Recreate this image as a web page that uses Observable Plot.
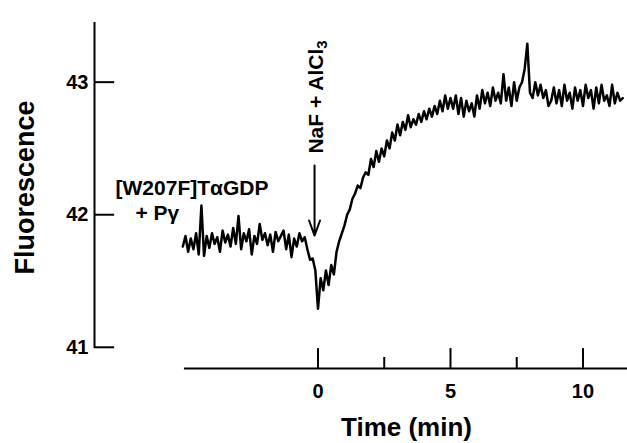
<!DOCTYPE html>
<html><head><meta charset="utf-8">
<script src="https://cdn.jsdelivr.net/npm/d3@7"></script>
<script src="https://cdn.jsdelivr.net/npm/@observablehq/plot@0.6"></script>
<style>html,body{margin:0;padding:0;background:#fff;} #chart{width:627px;height:443px;}</style>
</head><body><div id="chart"></div>
<script>
// Recording: first sample time and sampling interval (min)
const t0 = -5.1, dt = 0.1;
// Fluorescence, one value per 0.1 min from -5.1 to 11.5
const fluorescence = [
  41.76,41.84,41.72,41.82,41.74,41.86,41.70,42.07,41.69,41.84,
  41.75,41.86,41.78,41.83,41.72,41.88,41.79,41.85,41.76,41.90,
  41.78,41.99,41.74,41.86,41.80,41.89,41.70,41.84,41.78,41.93,
  41.81,41.86,41.77,41.85,41.72,41.87,41.80,41.84,41.88,41.74,
  41.85,41.68,41.82,41.76,41.86,41.80,41.83,41.74,41.66,
  41.67,41.58,41.29,41.52,41.43,41.58,41.47,41.62,
  41.55,41.72,41.80,41.86,41.92,42.00,42.04,42.12,42.16,42.22,
  42.20,42.28,42.32,42.30,42.42,42.36,42.48,42.40,42.50,42.44,
  42.56,42.50,42.62,42.56,42.68,42.60,42.70,42.64,42.75,42.66,
  42.72,42.68,42.76,42.70,42.78,42.72,42.80,42.74,42.82,42.76,
  42.86,42.78,42.90,42.80,42.88,
  42.80,42.90,42.76,42.88,42.74,42.86,42.78,42.84,42.74,42.90,
  42.80,42.94,42.84,42.92,42.82,42.96,42.86,42.92,42.84,43.06,
  42.86,42.96,42.82,43.00,42.86,42.96,43.00,43.10,43.29,42.92,
  42.88,43.00,42.90,42.98,42.88,42.94,42.82,42.86,42.96,42.84,
  42.94,42.82,42.98,42.86,42.92,42.80,42.96,42.86,42.94,42.82,
  42.98,42.88,42.94,42.80,42.96,42.84,42.98,42.86,42.90,42.82,
  42.98,42.84,42.92,42.86,42.88
];
const yTicks = [41, 42, 43];
const xMajorTicks = [0, 5, 10];
const xMinorTicks = [2.5, 7.5];
const sampleLabel1 = "[W207F]TαGDP";
const sampleLabel2 = "+ Pγ";
const additionLabel = "NaF + AlCl3";
const yLabel = "Fluorescence";
const xLabel = "Time (min)";

const trace = fluorescence.map((f, i) => ({t: Math.round((t0 + i * dt) * 100) / 100, f}));

const font = "'Liberation Sans', Arial, Helvetica, sans-serif";
const xMin = -8.434, xMax = 11.68, yMin = 40.84, yMax = 43.45;

const chart = Plot.plot({
  width: 627, height: 443,
  marginLeft: 94, marginRight: 0, marginTop: 22, marginBottom: 75,
  x: {domain: [xMin, xMax]},
  y: {domain: [yMin, yMax]},
  style: {background: "white", color: "black", fontFamily: font},
  marks: [
    // y axis line and inward ticks
    Plot.ruleX([xMin], {y1: 40.99, y2: yMax, strokeWidth: 2}),
    Plot.ruleY(yTicks, {x1: xMin, x2: xMin + 0.76, strokeWidth: 2}),
    Plot.axisY({ticks: yTicks, tickFormat: d => String(d), tickSize: 0, tickPadding: 6, label: null, fontSize: 20, fontWeight: "bold"}),
    // x axis line and upward ticks
    Plot.ruleY([yMin], {x1: -5.04, x2: xMax, strokeWidth: 2}),
    Plot.ruleX(xMajorTicks, {y1: yMin, y2: yMin + 0.15, strokeWidth: 2}),
    Plot.ruleX(xMinorTicks, {y1: yMin, y2: yMin + 0.083, strokeWidth: 2}),
    Plot.axisX({ticks: xMajorTicks, tickFormat: d => String(d), tickSize: 0, tickPadding: 15, label: null, fontSize: 20, fontWeight: "bold"}),
    // trace
    Plot.line(trace, {x: "t", y: "f", stroke: "black", strokeWidth: 2.5, strokeLinejoin: "round"}),
    // addition arrow
    Plot.arrow([0], {x1: -0.13, y1: 42.371, x2: -0.13, y2: 41.843, bend: 0, headLength: 12, headAngle: 40, strokeWidth: 2, stroke: "black"}),
    Plot.text([additionLabel], {x: -0.075, y: 42.461, text: d => d, rotate: -90, textAnchor: "start", fontSize: 21, fontWeight: "bold"}),
    // sample annotations
    Plot.text([sampleLabel1], {x: -7.64, y: 42.152, text: d => d, textAnchor: "start", lineAnchor: "bottom", fontSize: 21, fontWeight: "bold"}),
    Plot.text([sampleLabel2], {x: -6.89, y: 41.963, text: d => d, textAnchor: "start", lineAnchor: "bottom", fontSize: 21, fontWeight: "bold"}),
    // axis titles
    Plot.text([yLabel], {x: -11.06, y: 42.205, text: d => d, rotate: -90, textAnchor: "middle", fontSize: 27, fontWeight: "bold"}),
    Plot.text([xLabel], {x: 3.34, y: 40.47, text: d => d, textAnchor: "middle", lineAnchor: "top", fontSize: 26, fontWeight: "bold"})
  ]
});
document.getElementById("chart").appendChild(chart);

// subscript the 3 in AlCl3
chart.querySelectorAll("text").forEach(el => {
  if (el.textContent === additionLabel) {
    el.textContent = additionLabel.slice(0, -1);
    const sub = document.createElementNS("http://www.w3.org/2000/svg", "tspan");
    sub.setAttribute("dy", "0.3em");
    sub.setAttribute("font-size", "15");
    sub.textContent = "3";
    el.appendChild(sub);
  }
});
</script>
</body></html>
